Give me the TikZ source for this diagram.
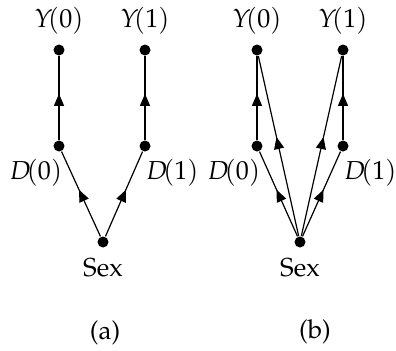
\documentclass[tikz,border=0pt]{standalone}
\usepackage[T1]{fontenc}
\usepackage{mathpazo}
\usetikzlibrary{positioning,arrows.meta,decorations.markings}
\tikzset{
  dot/.style={circle,fill,inner sep=0pt,minimum size=5.5pt},
  txt/.style={inner sep=1pt,font=\fontsize{13}{15}\selectfont},
  mid/.style={decoration={markings,
      mark=at position 0.55 with {\arrow{Triangle[length=6pt,width=5pt]}}},
    postaction={decorate}},
}
\begin{document}
\begin{tikzpicture}[x=0.5pt,y=-0.5pt,line width=0.6pt]
\useasboundingbox (0,0) rectangle (396,350);

% (a)
\node[dot] (ya0) at (59,50) {};
\node[dot] (ya1) at (145,50) {};
\node[dot] (da0) at (59,146) {};
\node[dot] (da1) at (145,146) {};
\node[dot] (sa) at (103,242) {};
\node[txt, above=3.5pt of ya0] (lya0) {$Y\!(0)$};
\node[txt, above=3.5pt of ya1] (lya1) {$Y\!(1)$};
\node[txt, below left=3pt and -5pt of da0] (lda0) {$D\!(0)$};
\node[txt, below right=3pt and -3pt of da1] (lda1) {$D\!(1)$};
\node[txt, below=4pt of sa] (lsa) {Sex};
\node[txt] (capa) at (105,333) {(a)};

\draw[mid] (da0) -- (ya0);
\draw[mid] (da1) -- (ya1);
\draw[mid] (sa) -- (da0);
\draw[mid] (sa) -- (da1);

% (b)
\node[dot] (yb0) at (257,50) {};
\node[dot] (yb1) at (343,50) {};
\node[dot] (db0) at (257,146) {};
\node[dot] (db1) at (343,146) {};
\node[dot] (sb) at (300,242) {};
\node[txt, above=3.5pt of yb0] (lyb0) {$Y\!(0)$};
\node[txt, above=3.5pt of yb1] (lyb1) {$Y\!(1)$};
\node[txt, below left=3pt and -5pt of db0] (ldb0) {$D\!(0)$};
\node[txt, below right=3pt and -3pt of db1] (ldb1) {$D\!(1)$};
\node[txt, below=4pt of sb] (lsb) {Sex};
\node[txt] (capb) at (315,332) {(b)};

\draw[mid] (db0) -- (yb0);
\draw[mid] (db1) -- (yb1);
\draw[mid] (sb) -- (db0);
\draw[mid] (sb) -- (db1);
\draw[mid] (sb) -- (yb0);
\draw[mid] (sb) -- (yb1);
\end{tikzpicture}
\end{document}
